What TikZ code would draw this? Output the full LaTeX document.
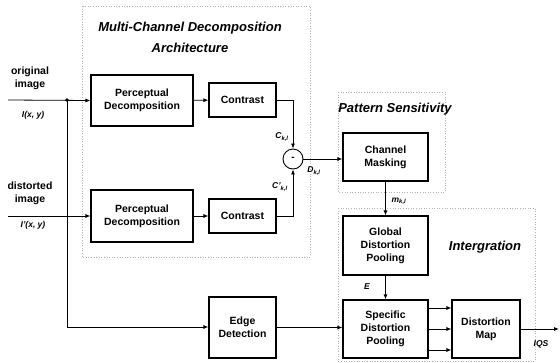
\documentclass[tikz,border=0pt]{standalone}
\usepackage{fontspec}
\setmainfont{Liberation Sans}
\usetikzlibrary{arrows.meta}
\begin{document}
\begin{tikzpicture}[x=1pt,y=-1pt,
  blk/.style={draw, line width=1.1pt, align=center, font=\fontsize{10.5}{13}\selectfont\bfseries, inner sep=0pt},
  conn/.style={line width=0.8pt, -{Latex[length=5pt,width=4pt]}},
  plain/.style={line width=0.8pt},
  region/.style={draw=gray!60, dotted, line width=0.6pt},
  ttl/.style={font=\fontsize{13}{21}\selectfont\bfseries\itshape, align=center},
  lbl/.style={font=\fontsize{10.5}{13}\selectfont\bfseries, align=center},
  sym/.style={font=\fontsize{8.5}{10}\selectfont\bfseries\itshape, inner sep=0pt}]
\useasboundingbox (0,0) rectangle (560,362);
% regions
\draw[region] (82,6) rectangle (310,257);
\draw[region] (338,92) rectangle (445,192);
\draw[region] (338,208) rectangle (535,361);
\node[ttl] (tmc) at (190,37) {Multi-Channel Decomposition\\Architecture};
\node[ttl] (tps) at (395,109) {Pattern Sensitivity};
\node[ttl] (tin) at (485,247) {Intergration};
% blocks
\node[blk, minimum width=102pt, minimum height=51pt] (pd1) at (142,100.5) {Perceptual\\Decomposition};
\node[blk, minimum width=67pt, minimum height=34pt] (ct1) at (242.5,100) {Contrast};
\node[blk, minimum width=102pt, minimum height=52pt] (pd2) at (142,216) {Perceptual\\Decomposition};
\node[blk, minimum width=67pt, minimum height=34pt] (ct2) at (242.5,216) {Contrast};
\node[draw, circle, line width=0.9pt, minimum size=20pt, inner sep=0pt, font=\bfseries] (sub) at (293,159) {-};
\node[blk, minimum width=85pt, minimum height=48pt] (cm) at (385.5,157) {Channel\\Masking};
\node[blk, minimum width=85pt, minimum height=59pt] (gdp) at (385.5,245.5) {Global\\Distortion\\Pooling};
\node[blk, minimum width=85pt, minimum height=58pt] (sdp) at (385.5,329) {Specific\\Distortion\\Pooling};
\node[blk, minimum width=68pt, minimum height=58pt] (dm) at (486,329) {Distortion\\Map};
\node[blk, minimum width=67pt, minimum height=61pt] (ed) at (242.5,327.5) {Edge\\Detection};
% input labels
\node[lbl] (oi) at (30,78) {original\\image};
\node[lbl] (di) at (30,193) {distorted\\image};
\node[sym] (li) at (33,115) {I(x, y)};
\node[sym] (ldi) at (33,225) {I'(x, y)};
\node[sym] (lc) at (282,137) {C\textsubscript{k,l}};
\node[sym] (lcp) at (280,187) {C'\textsubscript{k,l}};
\node[sym] (ld) at (314,171) {D\textsubscript{k,l}};
\node[sym] (lm) at (399,201) {m\textsubscript{k,l}};
\node[sym] (le) at (367,287) {E};
\node[sym] (lq) at (541,344) {IQS};
% coordinates
\coordinate (in1) at (8,100);
\coordinate (in2) at (8,216);
\coordinate (j1) at (67,100);
\coordinate (jb) at (67,327);
\coordinate (out) at (559,329);
% connectors
\draw[conn] (in1) -- (pd1.west);
\fill (j1) circle (1.8pt);
\draw[conn] (in2) -- (pd2.west);
\draw[plain] (j1) -- (jb);
\draw[conn] (jb) -- (jb -| ed.west);
\draw[conn] (pd1) -- (ct1);
\draw[conn] (pd2) -- (ct2);
\draw[conn] (ct1.east) -| (sub.north);
\draw[conn] (ct2.east) -| (sub.south);
\draw[conn] (sub.east) -- (sub.east -| cm.west);
\draw[conn] (cm.south) -- (gdp.north);
\draw[conn] (gdp.south) -- (sdp.north);
\draw[conn] (ed.east) -- (ed.east -| sdp.west);
\draw[conn] ([yshift=-21pt]sdp.east) -- ([yshift=-21pt]sdp.east -| dm.west);
\draw[conn] (sdp.east) -- (dm.west);
\draw[conn] ([yshift=21pt]sdp.east) -- ([yshift=21pt]sdp.east -| dm.west);
\draw[conn] (dm.east) -- (out);
\end{tikzpicture}
\end{document}
